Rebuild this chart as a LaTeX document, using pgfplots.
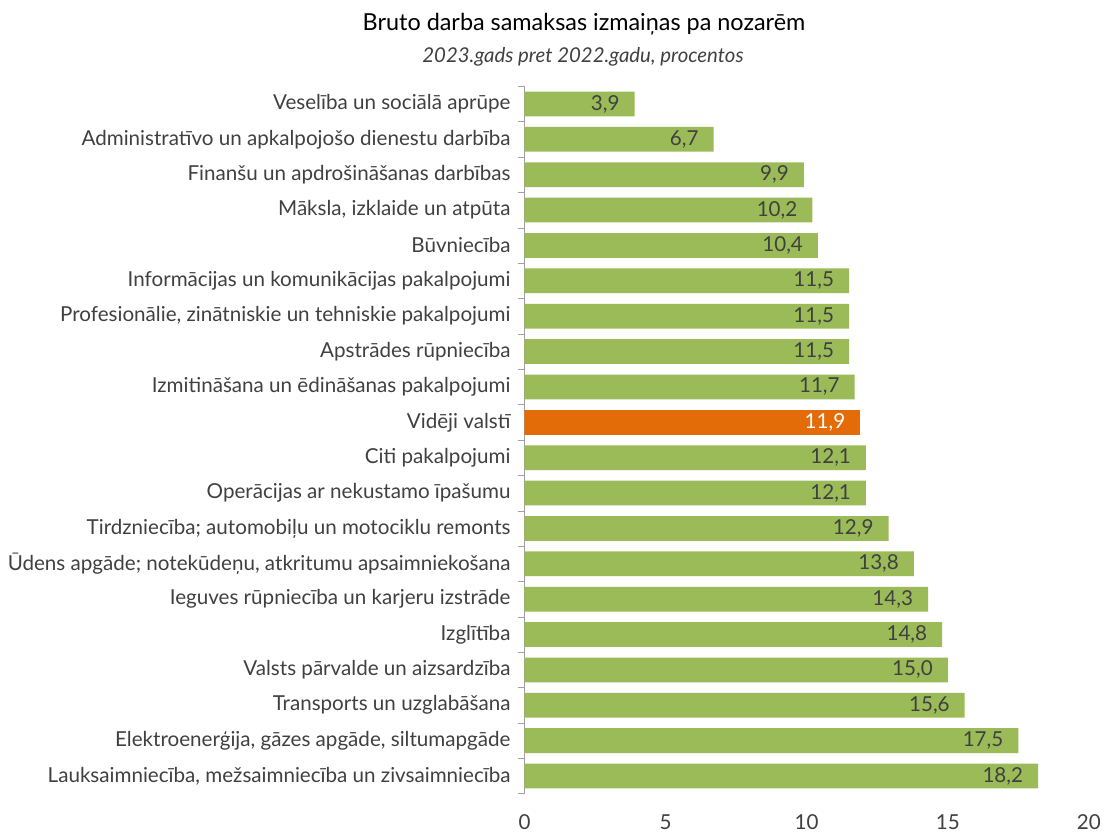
\documentclass[border=0pt]{standalone}
\usepackage{pgfplots}
\pgfplotsset{compat=1.18}
\usepackage{fontspec}
\setmainfont{Lato}
\definecolor{barGreen}{HTML}{9BBB59}
\definecolor{barOrange}{HTML}{E36C09}
\definecolor{txt}{HTML}{404040}
\definecolor{axisgray}{HTML}{A0A0A0}

\begin{document}
\begin{tikzpicture}
\begin{axis}[
  at={(0,0)}, anchor=south west,
  scale only axis,
  width=282.2pt, height=353.7pt,
  xbar, bar shift=0pt, bar width=12.4pt,
  xmin=0, xmax=20,
  ymin=-0.5, ymax=19.5,
  y dir=reverse,
  xtick={0,5,10,15,20},
  ytick={0,...,19},
  minor ytick={-0.5,0.5,...,19.5},
  major tick length=0pt,
  minor tick length=3pt,
  tick align=outside,
  minor tick style={axisgray},
  axis x line*=bottom,
  x axis line style={draw=none},
  axis y line*=left,
  y axis line style={axisgray, -},
  every tick label/.append style={font=\fontsize{10.3}{12}\selectfont, text=txt},
  xticklabel style={anchor=center, inner sep=0pt, yshift=-14.2pt},
  yticklabel style={anchor=east, inner sep=0pt, xshift=-6.8pt},
  /pgf/number format/assume math mode=true,
  yticklabels={
    {Veselība un sociālā aprūpe},
    {Administratīvo un apkalpojošo dienestu darbība},
    {Finanšu un apdrošināšanas darbības},
    {Māksla, izklaide un atpūta\hspace{0.25em}},
    {Būvniecība},
    {Informācijas un komunikācijas pakalpojumi},
    {Profesionālie, zinātniskie un tehniskie pakalpojumi},
    {Apstrādes rūpniecība},
    {Izmitināšana un ēdināšanas pakalpojumi},
    {Vidēji valstī},
    {Citi pakalpojumi},
    {Operācijas ar nekustamo īpašumu},
    {Tirdzniecība; automobiļu un motociklu remonts},
    {Ūdens apgāde; notekūdeņu, atkritumu apsaimniekošana},
    {Ieguves rūpniecība un karjeru izstrāde},
    {Izglītība\hspace{0.25em}},
    {Valsts pārvalde un aizsardzība},
    {Transports un uzglabāšana},
    {Elektroenerģija, gāzes apgāde, siltumapgāde},
    {Lauksaimniecība, mežsaimniecība un zivsaimniecība}
  },
  nodes near coords={\pgfmathprintnumber{\pgfplotspointmeta}\hspace*{4pt}},
  every node near coord/.append style={anchor=east,
    font=\fontsize{10.3}{12}\selectfont,
    /pgf/number format/fixed, /pgf/number format/fixed zerofill,
    /pgf/number format/precision=1, /pgf/number format/use comma},
]

% sectors
\addplot[fill=barGreen, draw=none, every node near coord/.append style={text=txt}] coordinates {
  (3.9,0) (6.7,1) (9.9,2) (10.2,3) (10.4,4) (11.5,5) (11.5,6) (11.5,7) (11.7,8)
  (12.1,10) (12.1,11) (12.9,12) (13.8,13) (14.3,14) (14.8,15) (15.0,16)
  (15.6,17) (17.5,18) (18.2,19)
};

% national average
\addplot[fill=barOrange, draw=none, every node near coord/.append style={text=white}] coordinates {
  (11.9,9)
};

\end{axis}

% titles
\node[font=\fontsize{11.7}{14}\selectfont, text=black] at (29.75pt,384.8pt)
  {Bruto darba samaksas izmaiņas pa nozarēm};
\node[font=\fontsize{10.2}{12}\selectfont\itshape, text=txt] at (29.25pt,368.3pt)
  {2023.gads pret 2022.gadu, procentos};

\pgfresetboundingbox
\path[use as bounding box] (-262.25pt,-19.65pt) rectangle (289.75pt,396.85pt);
\end{tikzpicture}
\end{document}
